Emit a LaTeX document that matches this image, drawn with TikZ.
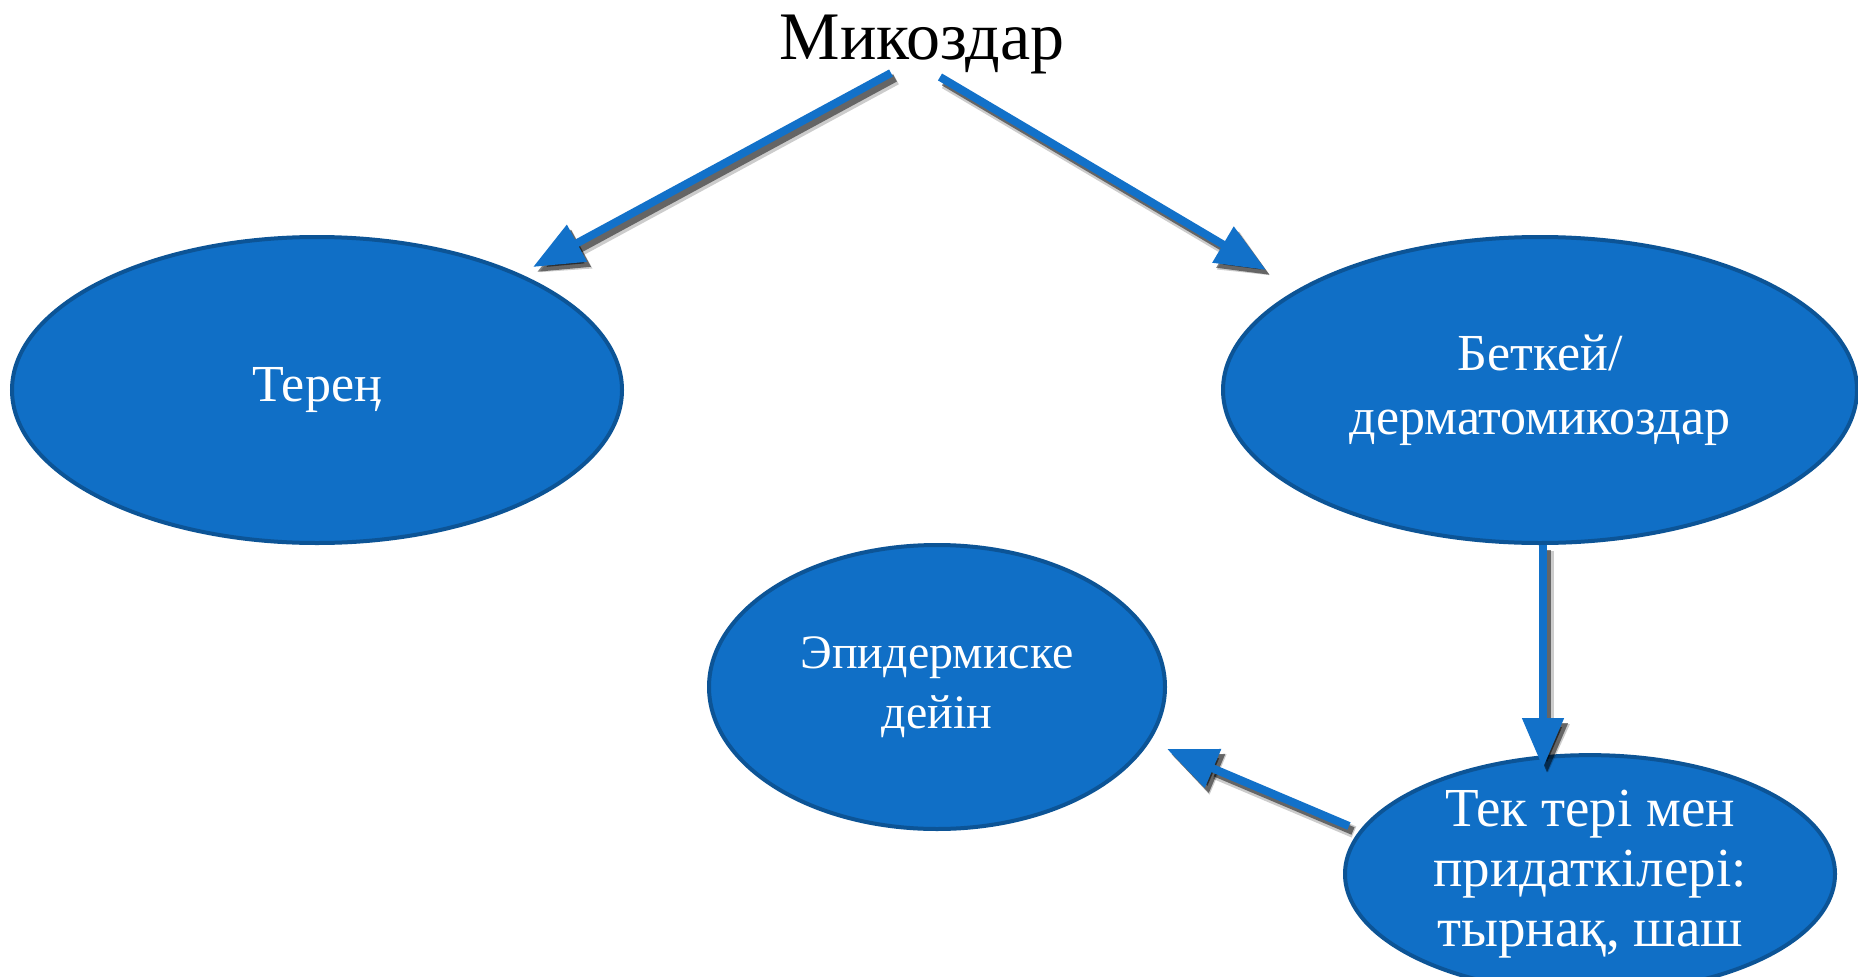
\documentclass[tikz,border=0pt]{standalone}
\usepackage{fontspec}
\setmainfont{Liberation Serif}
\usetikzlibrary{shapes.geometric,arrows.meta}
\definecolor{ovalblue}{RGB}{16,111,198}
\definecolor{ovalline}{RGB}{12,84,150}
\definecolor{arrowblue}{RGB}{18,113,201}

\begin{document}
\begin{tikzpicture}[x=1pt, y=1pt,
    oval/.style={ellipse, draw=ovalline, line width=4pt, fill=ovalblue, text=white, inner sep=0pt, align=center},
    arrow/.style={draw=arrowblue, line width=8pt, -{Triangle[length=50pt,width=40pt]}},
    arrowshade/.style={arrow, draw=black, opacity=0.5}]

    \useasboundingbox[fill=white] (0,0) rectangle (1858,-977);

    \node[anchor=base, font=\fontsize{68}{80}\selectfont] (10) at (922,-59) {Микоздар};

    \node[oval, minimum width=610pt, minimum height=306pt, font=\fontsize{52}{62}\selectfont] (21) at (317,-390) {Тереӊ};

    \node[oval, minimum width=634pt, minimum height=306pt, font=\fontsize{52}{64}\selectfont] (22) at (1540,-390) {Беткей/\\дерматомикоздар};

    \node[oval, minimum width=456pt, minimum height=284pt, font=\fontsize{48}{60}\selectfont] (31) at (937,-687) {Эпидермиске\\дейін};

    \node[oval, minimum width=490pt, minimum height=214pt, font=\fontsize{55}{60}\selectfont] (32) at (1590,-874) {Тек тері мен\\придаткілері:\\тырнақ, шаш};


    \coordinate (10l) at (891,-73);

    \coordinate (10r) at (940,-77);

    \coordinate (21t) at (533,-267);

    \coordinate (22t) at (1266,-270);

    \coordinate (22b) at (22.south -| 1543,0);

    \coordinate (32t) at (1543,-768);

    \coordinate (31t) at (1167,-749);

    \coordinate (32l) at (1349,-826);


    % shadows
    \begin{scope}[transform canvas={shift={(5pt,-6pt)}}]
    \foreach \from/\to in {10l/21t, 10r/22t, 22b/32t, 32l/31t}
        \draw[arrowshade, opacity=0.2, line width=12pt] (\from) to (\to);
    \end{scope}

    \begin{scope}[transform canvas={shift={(4pt,-5pt)}}]
    \foreach \from/\to in {10l/21t, 10r/22t, 22b/32t, 32l/31t}
        \draw[arrowshade] (\from) to (\to);
    \end{scope}

    \foreach \from/\to in {10l/21t, 10r/22t, 22b/32t, 32l/31t}
        \draw[arrow] (\from) to (\to);

    \end{tikzpicture}
\end{document}
